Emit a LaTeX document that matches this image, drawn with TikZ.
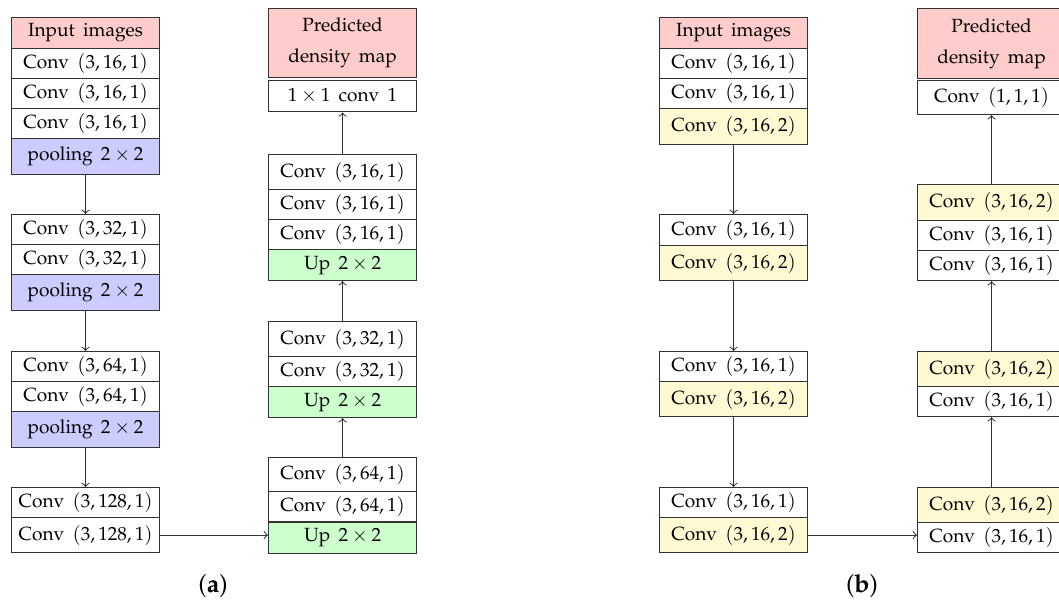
\documentclass[tikz,border=0pt]{standalone}
\usepackage[T1]{fontenc}
\usepackage{mathpazo}
\definecolor{pinkc}{RGB}{255,204,204}
\definecolor{bluec}{RGB}{204,204,255}
\definecolor{greenc}{RGB}{204,255,204}
\definecolor{yellowc}{RGB}{255,250,212}
\begin{document}
\begin{tikzpicture}[x=0.44pt,y=-0.44pt,
  blk/.style={draw=black!80,line width=0.5pt,minimum width=65.12pt,inner sep=0pt,anchor=north west,align=center,
    font={\fontsize{8.4}{10.5}\selectfont\spaceskip=3.6pt\relax}},
  h30/.style={minimum height=13.2pt},
  h31/.style={minimum height=13.64pt},
  h35/.style={minimum height=15.4pt},
  h36/.style={minimum height=15.84pt},
  pk/.style={fill=pinkc},
  bl/.style={fill=bluec},
  gr/.style={fill=greenc},
  yl/.style={fill=yellowc},
  conn/.style={draw=black!80,line width=0.45pt,->},
  captext/.style={font=\fontsize{11}{13}\selectfont}]
\useasboundingbox (0,0) rectangle (1059,599);
% ---------- (a) left column ----------
\node[blk,h31,pk] (in1) at (11,17) {Input images};
\node[blk,h30] (c1) at (11,48) {Conv $(3,16,1)$};
\node[blk,h30] (c2) at (11,78) {Conv $(3,16,1)$};
\node[blk,h30] (c3) at (11,108) {Conv $(3,16,1)$};
\node[blk,h36,bl] (p1) at (11,138) {pooling $2\times2$};
\node[blk,h30] (c4) at (11,214) {Conv $(3,32,1)$};
\node[blk,h30] (c5) at (11,244) {Conv $(3,32,1)$};
\node[blk,h36,bl] (p2) at (11,274) {pooling $2\times2$};
\node[blk,h30] (c6) at (11,351) {Conv $(3,64,1)$};
\node[blk,h30] (c7) at (11,381) {Conv $(3,64,1)$};
\node[blk,h36,bl] (p3) at (11,411) {pooling $2\times2$};
\node[blk,h30] (c8) at (11,487) {Conv $(3,128,1)$};
\node[blk,h35] (c9) at (11,517) {Conv $(3,128,1)$};
% ---------- (a) right column ----------
\node[blk,pk,minimum height=30.4pt] (pd) at (268,8) {Predicted\\[3pt]density map};
\node[blk,minimum height=14pt] (o1) at (268,79.5) {$1\times1$ conv $1$};
\node[blk,h35] (r1) at (268,154) {Conv $(3,16,1)$};
\node[blk,h30] (r2) at (268,189) {Conv $(3,16,1)$};
\node[blk,h30] (r3) at (268,219) {Conv $(3,16,1)$};
\node[blk,h31,gr] (u1) at (268,249) {Up $2\times2$};
\node[blk,h35] (r4) at (268,321) {Conv $(3,32,1)$};
\node[blk,h30] (r5) at (268,356) {Conv $(3,32,1)$};
\node[blk,h31,gr] (u2) at (268,386) {Up $2\times2$};
\node[blk,minimum height=14.96pt] (r6) at (268,457) {Conv $(3,64,1)$};
\node[blk,h30] (r7) at (268,491) {Conv $(3,64,1)$};
\node[blk,h31,gr] (u3) at (268,521.5) {Up $2\times2$};
% ---------- (a) connectors ----------
\draw[conn] (p1.south) -- (p1.south |- c4.north);
\draw[conn] (p2.south) -- (p2.south |- c6.north);
\draw[conn] (p3.south) -- (p3.south |- c8.north);
\draw[conn] (c9.east) -- (c9.east -| u3.west);
\draw[conn] (r6.north) -- (r6.north |- u2.south);
\draw[conn] (r4.north) -- (r4.north |- u1.south);
\draw[conn] (r1.north) -- (r1.north |- o1.south);
\node[captext] (capa) at (213,586) {(\textbf{a})};
% ---------- (b) left column ----------
\node[blk,h31,pk] (bi) at (659,17) {Input images};
\node[blk,h30] (b1) at (659,48) {Conv $(3,16,1)$};
\node[blk,h30] (b2) at (659,78) {Conv $(3,16,1)$};
\node[blk,h36,yl] (b3) at (659,108) {Conv $(3,16,2)$};
\node[blk,h31] (b4) at (659,214) {Conv $(3,16,1)$};
\node[blk,h35,yl] (b5) at (659,245) {Conv $(3,16,2)$};
\node[blk,h30] (b6) at (659,351) {Conv $(3,16,1)$};
\node[blk,h35,yl] (b7) at (659,381) {Conv $(3,16,2)$};
\node[blk,h30] (b8) at (659,487) {Conv $(3,16,1)$};
\node[blk,h35,yl] (b9) at (659,517) {Conv $(3,16,2)$};
% ---------- (b) right column ----------
\node[blk,pk,minimum height=30.8pt] (bpd) at (917,8) {Predicted\\[3pt]density map};
\node[blk,minimum height=14.96pt] (bo) at (917,80) {Conv $(1,1,1)$};
\node[blk,h36,yl] (s1) at (917,184) {Conv $(3,16,2)$};
\node[blk,h30] (s2) at (917,220) {Conv $(3,16,1)$};
\node[blk,h30] (s3) at (917,250) {Conv $(3,16,1)$};
\node[blk,h35,yl] (s4) at (917,351) {Conv $(3,16,2)$};
\node[blk,h30] (s5) at (917,386) {Conv $(3,16,1)$};
\node[blk,h35,yl] (s6) at (917,487) {Conv $(3,16,2)$};
\node[blk,h30] (s7) at (917,522) {Conv $(3,16,1)$};
% ---------- (b) connectors ----------
\draw[conn] (b3.south) -- (b3.south |- b4.north);
\draw[conn] (b5.south) -- (b5.south |- b6.north);
\draw[conn] (b7.south) -- (b7.south |- b8.north);
\draw[conn] (b9.east) -- (b9.east -| s7.west);
\draw[conn] (s6.north) -- (s6.north |- s5.south);
\draw[conn] (s4.north) -- (s4.north |- s3.south);
\draw[conn] (s1.north) -- (s1.north |- bo.south);
\node[captext] (capb) at (862,586) {(\textbf{b})};
\end{tikzpicture}
\end{document}
